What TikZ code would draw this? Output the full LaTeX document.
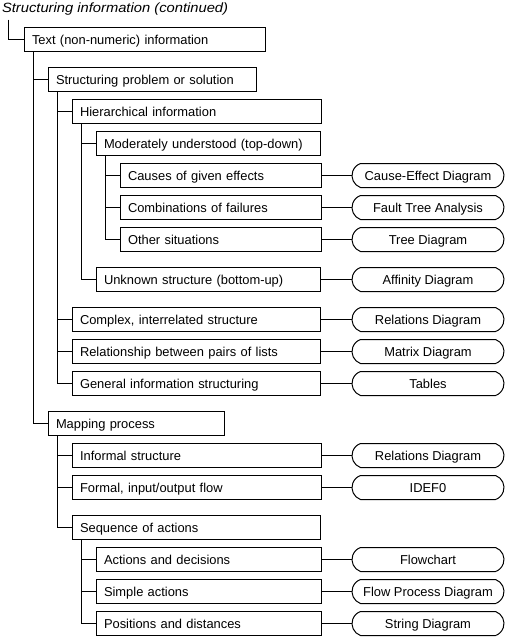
\documentclass[tikz,border=0pt]{standalone}
\usepackage{fontspec}
\setmainfont{Liberation Sans}
\usepackage{tikz}
\usetikzlibrary{shapes.misc}

\begin{document}
\begin{tikzpicture}[x=1pt, y=-1pt, line width=1pt, font=\fontsize{12.9}{14}\selectfont,
    topic/.style={draw, anchor=west, minimum height=24pt, inner xsep=8pt, inner ysep=0pt,
      text height=10pt, text depth=1pt, text width=#1pt-16pt, align=left},
    tool/.style={draw, anchor=west, rounded rectangle, rounded rectangle arc length=140,
      minimum height=24pt, minimum width=152pt, inner sep=0pt, text height=10pt, text depth=1pt,
      align=center}]
  \useasboundingbox (0,0) rectangle (505,637);

  % title
  \node[anchor=west, inner sep=0pt, font=\fontsize{13.4}{14}\selectfont\itshape\addfontfeature{FakeStretch=1.1}] (title) at (1.5,9) {Structuring information (continued)};

  % text information
  \node[topic=241] (txt) at (23.5,39.5) {Text (non-numeric) information};
  \node[topic=208] (struct) at (47.5,79.5) {Structuring problem or solution};
  \node[topic=249] (hier) at (71.5,111.5) {Hierarchical information};
  \node[topic=224] (topdown) at (95.5,143.5) {Moderately understood (top-down)};
  \node[topic=201] (causes) at (119.5,175.5) {Causes of given effects};
  \node[topic=201] (failures) at (119.5,207.5) {Combinations of failures};
  \node[topic=201] (other) at (119.5,239.5) {Other situations};
  \node[topic=224] (bottomup) at (95.5,279.5) {Unknown structure (bottom-up)};
  \node[topic=248] (complex) at (71.5,319.5) {Complex, interrelated structure};
  \node[topic=248] (pairs) at (71.5,351.5) {Relationship between pairs of lists};
  \node[topic=248] (general) at (71.5,383.5) {General information structuring};

  % mapping process
  \node[topic=176] (mapping) at (47.5,423.5) {Mapping process};
  \node[topic=249] (informal) at (71.5,455.5) {Informal structure};
  \node[topic=249] (formal) at (71.5,487.5) {Formal, input/output flow};
  \node[topic=248] (sequence) at (71.5,527.5) {Sequence of actions};
  \node[topic=225] (decisions) at (95.5,559.5) {Actions and decisions};
  \node[topic=225] (simple) at (95.5,591.5) {Simple actions};
  \node[topic=225] (distances) at (95.5,623.5) {Positions and distances};

  % tools
  \node[tool] (causeeffect) at (351.5,175.5) {Cause-Effect Diagram};
  \node[tool] (faulttree) at (351.5,207.5) {Fault Tree Analysis};
  \node[tool] (tree) at (351.5,239.5) {Tree Diagram};
  \node[tool] (affinity) at (351.5,279.5) {Affinity Diagram};
  \node[tool] (relations) at (351.5,319.5) {Relations Diagram};
  \node[tool] (matrix) at (351.5,351.5) {Matrix Diagram};
  \node[tool] (tables) at (351.5,383.5) {Tables};
  \node[tool] (relations2) at (351.5,455.5) {Relations Diagram};
  \node[tool] (idef) at (351.5,487.5) {IDEF0};
  \node[tool] (flowchart) at (351.5,559.5) {Flowchart};
  \node[tool] (flowprocess) at (351.5,591.5) {Flow Process Diagram};
  \node[tool] (string) at (351.5,623.5) {String Diagram};

  % tree lines
  \draw ([xshift=6.5pt, yshift=-4pt]title.south west) |- (txt.west);
  \foreach \c in {struct, mapping}
    \draw ([xshift=10pt]txt.south west) |- (\c.west);
  \foreach \c in {hier, complex, pairs, general}
    \draw ([xshift=10pt]struct.south west) |- (\c.west);
  \foreach \c in {topdown, bottomup}
    \draw ([xshift=10pt]hier.south west) |- (\c.west);
  \foreach \c in {causes, failures, other}
    \draw ([xshift=10pt]topdown.south west) |- (\c.west);
  \foreach \c in {informal, formal, sequence}
    \draw ([xshift=10pt]mapping.south west) |- (\c.west);
  \foreach \c in {decisions, simple, distances}
    \draw ([xshift=10pt]sequence.south west) |- (\c.west);

  % links to tools
  \foreach \a/\b in {causes/causeeffect, failures/faulttree, other/tree, bottomup/affinity,
      complex/relations, pairs/matrix, general/tables, informal/relations2, formal/idef,
      decisions/flowchart, simple/flowprocess, distances/string}
    \draw (\a.east) -- (\b.west);
\end{tikzpicture}
\end{document}
